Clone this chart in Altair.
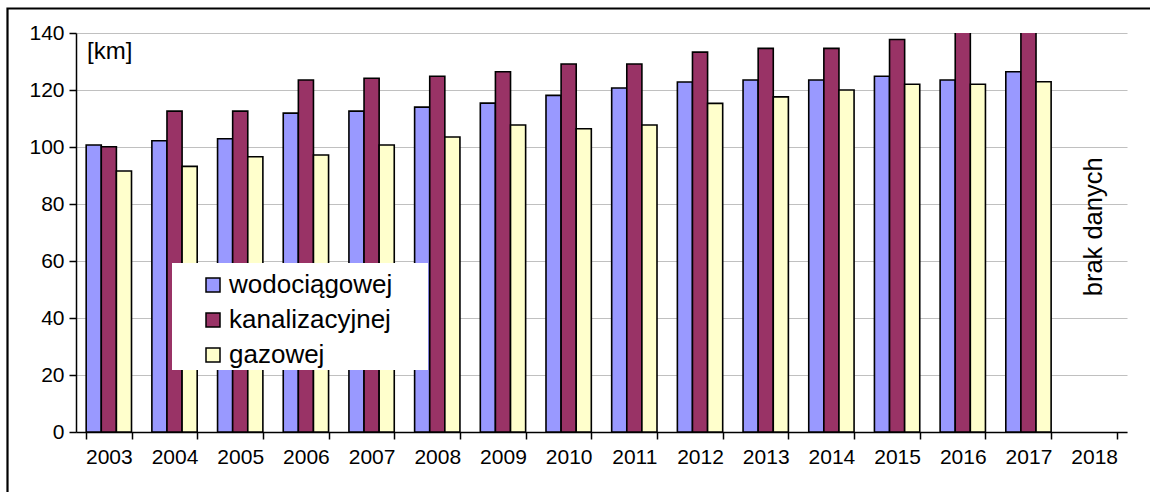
import altair as alt
import pandas as pd

years = [str(y) for y in range(2003, 2019)]
series_names = ["wodociągowej", "kanalizacyjnej", "gazowej"]
series_colors = ["#9999FF", "#993366", "#FFFFCC"]

wod = [100.7, 102.2, 102.9, 111.9, 112.6, 114.0, 115.4, 118.1, 120.7, 122.8, 123.5, 123.5, 124.8, 123.5, 126.4, None]
kan = [100.1, 112.6, 112.6, 123.5, 124.1, 124.8, 126.4, 129.1, 129.1, 133.3, 134.6, 134.6, 137.7, 146.0, 147.0, None]
gaz = [91.6, 93.2, 96.6, 97.2, 100.7, 103.5, 107.7, 106.4, 107.7, 115.3, 117.6, 120.0, 122.0, 122.0, 122.9, None]

no_data_year = ["2018"]
no_data_label = ["brak danych"]
no_data_pos = [72]

rows = []
for name, vals in zip(series_names, [wod, kan, gaz]):
    for y, v in zip(years, vals):
        if v is not None:
            rows.append({"year": y, "series": name, "value": v})
df = pd.DataFrame(rows)

FONT = "Liberation Sans"

x_scale = alt.Scale(domain=years, paddingInner=0.31, paddingOuter=0.155)
y_scale = alt.Scale(domain=[0, 140], nice=False)

bars = alt.Chart(df).mark_bar(stroke="black", strokeWidth=1.6, clip=True).encode(
    x=alt.X("year:N", scale=x_scale, title=None,
            axis=alt.Axis(labelAngle=0, tickBand="extent", grid=False,
                          domainColor="black", domainWidth=1.5,
                          tickColor="black", tickSize=7, tickWidth=1.5,
                          labelFontSize=21, labelFont=FONT, labelColor="black",
                          labelPadding=7)),
    xOffset=alt.XOffset("series:N", sort=series_names,
                        scale=alt.Scale(domain=series_names)),
    y=alt.Y("value:Q", scale=y_scale, title=None,
            axis=alt.Axis(values=list(range(0, 141, 20)),
                          domainColor="black", domainWidth=1.5,
                          tickColor="black", tickSize=7, tickWidth=1.5,
                          gridColor="#c0c0c0", gridWidth=1.2,
                          labelFontSize=21, labelFont=FONT, labelColor="black",
                          labelPadding=5)),
    color=alt.Color("series:N", title=None,
                    scale=alt.Scale(domain=series_names, range=series_colors),
                    legend=alt.Legend(orient="none", legendX=124, legendY=239,
                                      symbolType="square", symbolSize=196,
                                      symbolStrokeColor="black", symbolStrokeWidth=1.5,
                                      symbolOpacity=1, labelLimit=400,
                                      labelFontSize=26, labelFont=FONT, labelColor="black",
                                      rowPadding=9, labelOffset=3, padding=0)),
)

nd_df = pd.DataFrame({"year": no_data_year, "label": no_data_label, "v": no_data_pos})
brak = alt.Chart(nd_df).mark_text(angle=270, fontSize=25.5, font=FONT, color="black",
                                  align="center", baseline="middle").encode(
    x=alt.X("year:N", scale=x_scale),
    y=alt.Y("v:Q", scale=y_scale),
    text="label:N",
)

one = pd.DataFrame({"a": [0]})
box = alt.Chart(one).mark_rect(fill="white").encode(
    x=alt.value(96), x2=alt.value(352), y=alt.value(230), y2=alt.value(337))

km = alt.Chart(one).mark_text(text="[km]", fontSize=24, font=FONT, color="black",
                              align="left", baseline="middle").encode(
    x=alt.value(11), y=alt.value(19))

frame = alt.Chart(one).mark_rect(fillOpacity=0, stroke="black", strokeWidth=2.2).encode(
    x=alt.value(-68.5), x2=alt.value(1200), y=alt.value(-24.5), y2=alt.value(600))

chart = alt.layer(bars, brak, box, km, frame).properties(
    width=1051, height=399,
    autosize=alt.AutoSizeParams(type="none"),
    padding={"left": 76, "top": 33, "right": 23, "bottom": 60},
).configure_view(strokeWidth=0)

chart.save("out.html", embed_options={"renderer": "svg", "actions": False})
